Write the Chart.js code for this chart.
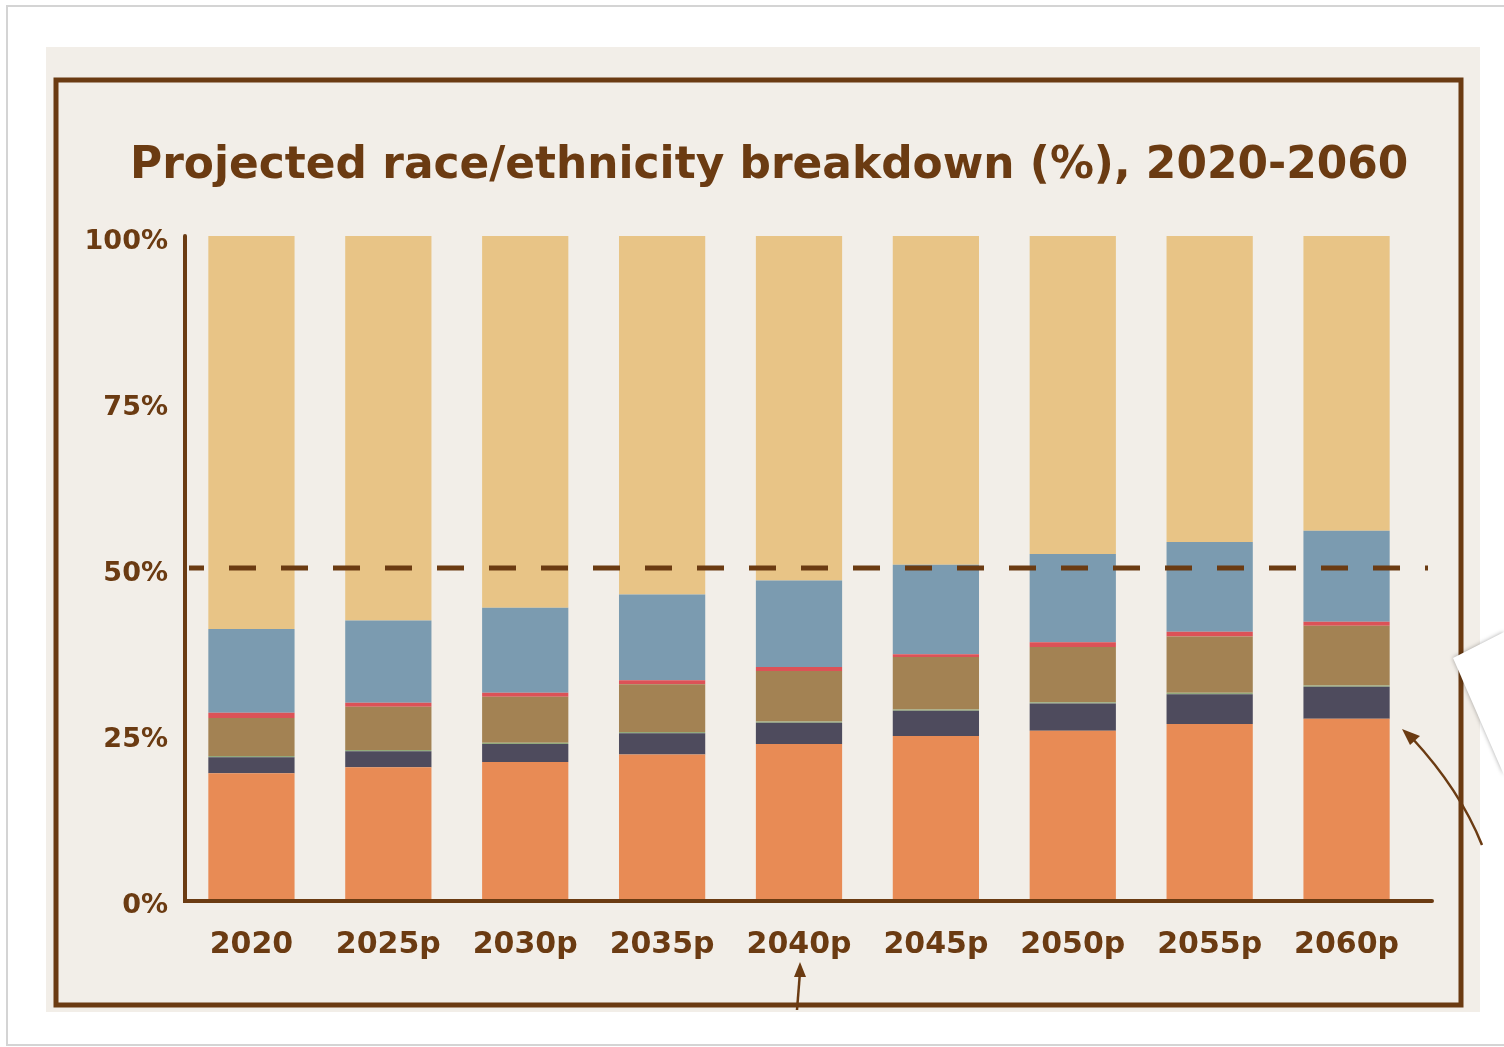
<!DOCTYPE html>
<html>
<head>
<meta charset="utf-8">
<script src="https://cdn.jsdelivr.net/npm/chart.js@4"></script>
<style>
  html, body { margin: 0; padding: 0; background: #ffffff; }
  #wrap { width: 1504px; height: 1047px; }
</style>
</head>
<body>
<div id="wrap"><canvas id="myChart" width="1504" height="1047"></canvas></div>
<script>
const years = ['2020', '2025p', '2030p', '2035p', '2040p', '2045p', '2050p', '2055p', '2060p'];
const yTicks = [0, 25, 50, 75, 100];
const halfLine = 50;

// stacked from the bottom up
const orange = [19.1, 20.0, 20.8, 21.9, 23.5, 24.7, 25.5, 26.5, 27.3];
const navy   = [2.4, 2.4, 2.7, 3.2, 3.2, 3.8, 4.1, 4.5, 4.8];
const green  = [0.2, 0.2, 0.2, 0.2, 0.2, 0.2, 0.2, 0.2, 0.2];
const brown  = [5.7, 6.5, 6.9, 7.2, 7.6, 7.9, 8.3, 8.5, 9.0];
const red    = [0.8, 0.6, 0.6, 0.6, 0.6, 0.4, 0.7, 0.7, 0.6];
const blue   = [12.6, 12.4, 12.8, 12.9, 13.0, 13.5, 13.3, 13.5, 13.7];
const tan    = [59.2, 57.9, 56.0, 54.0, 51.9, 49.5, 47.9, 46.1, 44.4];

const title = 'Projected race/ethnicity breakdown (%), 2020-2060';
const ink = '#6b3b12';
const font = '"DejaVu Sans", sans-serif';

function bar(data, color) {
    return {
        data: data,
        backgroundColor: color,
        borderWidth: 0,
        barPercentage: 0.63,
        categoryPercentage: 1
    };
}

// panel, frame, title, axis lines, dashed 50% line, arrows
const decor = {
    id: 'decor',
    beforeDraw(chart) {
        const c = chart.ctx;
        c.save();
        c.fillStyle = '#ffffff';
        c.fillRect(0, 0, 1504, 1047);
        c.strokeStyle = '#d4d4d4';
        c.lineWidth = 2;
        c.strokeRect(7, 6, 1510, 1039);
        c.fillStyle = '#f2eee8';
        c.fillRect(46, 47, 1434, 965);
        c.strokeStyle = ink;
        c.lineWidth = 5;
        c.strokeRect(56, 80, 1405, 925);
        c.restore();
    },
    afterDatasetsDraw(chart) {
        const c = chart.ctx;
        const a = chart.chartArea;
        const y = chart.scales.y;
        c.save();
        // axes
        c.strokeStyle = ink;
        c.lineCap = 'round';
        c.lineWidth = 4;
        c.beginPath();
        c.moveTo(a.left + 2, a.top);
        c.lineTo(a.left + 2, a.bottom + 1);
        c.lineTo(1432, a.bottom + 1);
        c.stroke();
        // 50% dashed line
        c.lineCap = 'butt';
        c.lineWidth = 5;
        c.setLineDash([27, 25]);
        c.lineDashOffset = 12;
        c.beginPath();
        const yh = y.getPixelForValue(halfLine);
        c.moveTo(a.left + 6, yh);
        c.lineTo(1428, yh);
        c.stroke();
        c.setLineDash([]);
        // title
        c.fillStyle = ink;
        c.font = 'bold 48px ' + font;
        const w = c.measureText(title).width;
        const size = 48 * 1280 / w;
        c.font = 'bold ' + size.toFixed(1) + 'px ' + font;
        c.textBaseline = 'alphabetic';
        c.fillText(title, 130, 178);
        // white paper corner on the right
        c.shadowColor = 'rgba(0,0,0,0.35)';
        c.shadowBlur = 4;
        c.fillStyle = '#ffffff';
        c.beginPath();
        c.moveTo(1453, 658);
        c.lineTo(1504, 632);
        c.lineTo(1504, 775);
        c.closePath();
        c.fill();
        c.shadowBlur = 0;
        c.shadowColor = 'transparent';
        // arrows
        c.strokeStyle = ink;
        c.fillStyle = ink;
        c.lineWidth = 2.5;
        c.beginPath();
        c.moveTo(1482, 845);
        c.quadraticCurveTo(1460, 790, 1412, 738);
        c.stroke();
        c.beginPath();
        c.moveTo(1402, 729);
        c.lineTo(1420, 736);
        c.lineTo(1410, 745);
        c.closePath();
        c.fill();
        c.beginPath();
        c.moveTo(797, 1010);
        c.lineTo(800, 972);
        c.stroke();
        c.beginPath();
        c.moveTo(800, 962);
        c.lineTo(806, 977);
        c.lineTo(794, 977);
        c.closePath();
        c.fill();
        c.restore();
    }
};

const ctx = document.getElementById('myChart');

new Chart(ctx, {
    type: 'bar',
    data: {
        labels: years,
        datasets: [
            bar(orange, '#e88b55'),
            bar(navy, '#4e4b5d'),
            bar(green, '#93aa7c'),
            bar(brown, '#a38253'),
            bar(red, '#dc5257'),
            bar(blue, '#7b9bb0'),
            bar(tan, '#e8c486')
        ]
    },
    options: {
        responsive: false,
        devicePixelRatio: 1,
        animation: false,
        layout: { padding: { left: 60, right: 89, top: 236, bottom: 40 } },
        plugins: {
            legend: { display: false },
            tooltip: { enabled: false },
            title: { display: false }
        },
        scales: {
            x: {
                stacked: true,
                grid: { display: false },
                border: { display: false },
                ticks: {
                    color: ink,
                    font: { family: font, size: 30, weight: 'bold' },
                    padding: 19,
                    maxRotation: 0
                },
                afterFit(s) { s.height = 107; }
            },
            y: {
                stacked: true,
                min: 0,
                max: 100,
                afterBuildTicks(s) { s.ticks = yTicks.map(v => ({ value: v })); },
                grid: { display: false },
                border: { display: false },
                ticks: {
                    color: ink,
                    font: { family: font, size: 27, weight: 'bold' },
                    padding: 7,
                    labelOffset: 6,
                    callback: v => v + '%'
                },
                afterFit(s) { s.width = 123; }
            }
        }
    },
    plugins: [decor]
});
</script>
</body>
</html>
